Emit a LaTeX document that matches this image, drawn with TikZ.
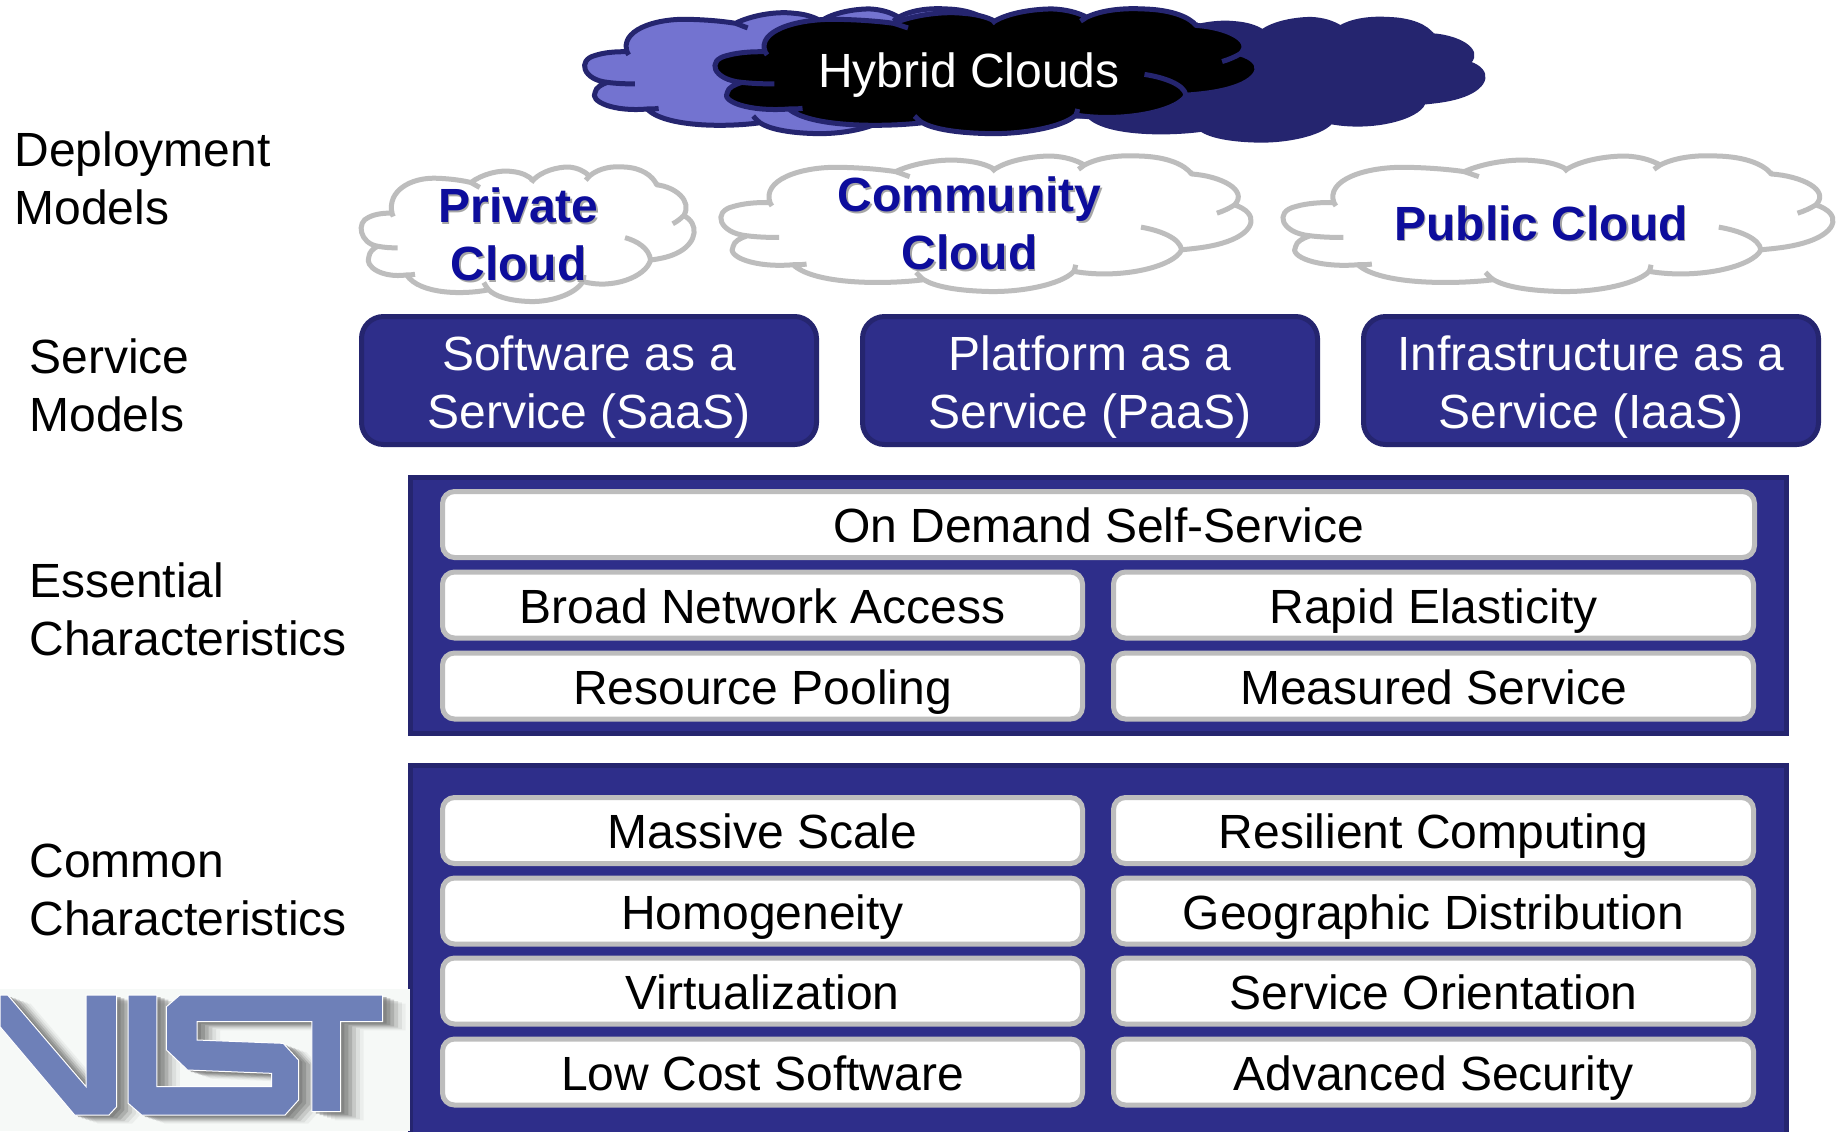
\documentclass[tikz,border=0pt]{standalone}
\usepackage{fontspec}
\setmainfont{Liberation Sans}
\definecolor{navy}{HTML}{2E2E8A}
\definecolor{navyline}{HTML}{25256F}
\definecolor{lilac}{HTML}{7373D0}
\definecolor{cloudgray}{HTML}{BDBDBD}
\definecolor{cloudblue}{HTML}{0D0D9C}
\definecolor{logoblue}{HTML}{6E80B8}
\definecolor{logobg}{HTML}{F6F9F7}
\newcommand{\cloudoutline}{(175,190) .. controls (150,120) and (260,80) .. (370,82) .. controls (440,83) and (500,90) .. (530,95) .. controls (580,70) and (660,55) .. (720,62) .. controls (760,65) and (790,75) .. (810,88) .. controls (850,60) and (920,48) .. (970,48) .. controls (1010,50) and (1040,60) .. (1065,75) .. controls (1110,50) and (1170,45) .. (1220,48) .. controls (1300,50) and (1350,75) .. (1368,102) .. controls (1450,108) and (1530,150) .. (1490,195) .. controls (1560,220) and (1550,275) .. (1470,305) .. controls (1430,320) and (1390,325) .. (1340,330) .. controls (1320,380) and (1170,420) .. (1035,395) .. controls (1000,435) and (880,460) .. (780,455) .. controls (700,452) and (640,440) .. (610,420) .. controls (500,435) and (300,435) .. (240,375) .. controls (130,385) and (50,350) .. (70,320) .. controls (72,305) and (90,295) .. (110,288) .. controls (30,280) and (10,215) .. (70,200) .. controls (100,190) and (140,187) .. (175,188) -- cycle}
\newcommand{\cloudinner}{(530,95) .. controls (545,100) and (555,105) .. (570,110) (1490,195) .. controls (1475,205) and (1460,213) .. (1440,220) (1340,330) .. controls (1335,295) and (1280,272) .. (1225,262) (1035,395) .. controls (1037,388) and (1040,380) .. (1040,375) (610,420) .. controls (600,413) and (595,405) .. (588,398) (240,375) .. controls (250,375) and (265,375) .. (278,373) (110,288) .. controls (140,292) and (170,293) .. (200,293) (175,190) -- (180,198) (810,88) -- (803,95) (1065,75) -- (1048,88) (1368,102) -- (1365,95)}
% #1 x0, #2 y0, #3 x1, #4 y1, #5 fill, #6 line, #7 line width
\newcommand{\cloudpic}[7]{%
  \pgfmathsetmacro\cxs{(#3-#1)/1515*0.5}%
  \pgfmathsetmacro\cys{(#4-#2)/415*0.5}%
  \begin{scope}[shift={(#1,#2)},x=\cxs pt,y=-\cys pt,shift={(-30,-45)}]
  \fill[#5] \cloudoutline;
  \draw[#6,line width=#7,line join=round] \cloudoutline \cloudinner;
  \end{scope}}
\newcommand{\nistN}{(0,105) -- (20,105) -- (225,380) -- (225,105) -- (305,105) -- (305,440) -- (285,465) -- (195,465) -- (0,200) -- cycle}
\newcommand{\nistIS}{(335,105) -- (410,105) -- (410,380) -- (710,380) -- (710,340) -- (490,330) -- (435,270) -- (435,140) -- (470,105) -- (1000,105) -- (1000,185) -- (890,185) -- (890,455) -- (815,455) -- (815,185) -- (515,185) -- (515,240) -- (740,250) -- (780,300) -- (780,420) -- (745,465) -- (370,465) -- (335,430) -- cycle}
\tikzset{
  x=0.5pt,y=-0.5pt,
  every node/.style={font=\fontsize{24pt}{29pt}\selectfont,align=center,inner sep=0pt},
  oneline/.style={execute at begin node={\rule{0pt}{24pt}},execute at end node={\rule[-6pt]{0pt}{0pt}}},
  twoline/.style={execute at begin node={\rule{0pt}{30.5pt}},execute at end node={\rule[-5.1pt]{0pt}{0pt}}},
  sidelabel/.style={twoline,anchor=west,align=left},
  cloudtext/.style={font=\fontsize{24pt}{29pt}\selectfont\bfseries,text=cloudblue},
  cloudshadow/.style={font=\fontsize{24pt}{29pt}\selectfont\bfseries,text=black!35},
  service/.style={draw=navyline,fill=navy,line width=2.5pt,rounded corners=11pt,minimum height=64pt,minimum width=227.5pt},
  servicetext/.style={twoline,text=white,yshift=-3.5pt},
  panel/.style={fill=navy,draw=navyline,line width=2.5pt},
  item/.style={oneline,draw=cloudgray,fill=white,line width=2.5pt,rounded corners=6pt,minimum height=33pt,text=black},
  halfitem/.style={item,minimum width=320pt},
}
\begin{document}
\begin{tikzpicture}
\useasboundingbox (0,0) rectangle (1845,1131);
\fill[white] (0,0) rectangle (1845,1131);
% hybrid clouds
\cloudpic{583}{8}{1045}{135}{lilac}{navyline}{2.5pt}
\cloudpic{1024}{17}{1487}{143}{navyline}{navyline}{1pt}
\cloudpic{713}{8}{1260}{135}{black}{navyline}{2.5pt}
\node[oneline,text=white] (hybrid) at (969,69) {Hybrid Clouds};
% deployment clouds
\cloudpic{360}{166}{696}{303}{white}{cloudgray}{2.5pt}
\cloudpic{719}{155}{1254}{293}{white}{cloudgray}{2.5pt}
\cloudpic{1281}{155}{1836}{293}{white}{cloudgray}{2.5pt}
\node[twoline,cloudshadow] (privates) at (520,241) {Private\\Cloud};
\node[twoline,cloudshadow] (communitys) at (971,230) {Community\\Cloud};
\node[oneline,cloudshadow] (publics) at (1542.5,223.5) {Public Cloud};
\node[twoline,cloudtext] (private) at (518.5,239.5) {Private\\Cloud};
\node[twoline,cloudtext] (community) at (969.5,228.5) {Community\\Cloud};
\node[oneline,cloudtext] (public) at (1541,222) {Public Cloud};
% service
\node[service] (saas) at (589,380.5) {};
\node[service] (paas) at (1090,380.5) {};
\node[service] (iaas) at (1591,380.5) {};
\node[servicetext] (saastext) at (saas.center) {Software as a\\Service (SaaS)};
\node[servicetext] (paastext) at (paas.center) {Platform as a\\Service (PaaS)};
\node[servicetext] (iaastext) at (iaas.center) {Infrastructure as a\\Service (IaaS)};
% panels
\draw[panel] (410,477) rectangle (1786,733);
\draw[panel] (410,765) rectangle (1786,1145);
\node[item,minimum width=656pt] (ondemand) at (1098.5,524.5) {On Demand Self-Service};
\node[halfitem] (broad) at (762.5,605) {Broad Network Access};
\node[halfitem] (rapid) at (1433.5,605) {Rapid Elasticity};
\node[halfitem] (pooling) at (762.5,686) {Resource Pooling};
\node[halfitem] (measured) at (1433.5,686) {Measured Service};
\node[halfitem] (massive) at (762.5,830.5) {Massive Scale};
\node[halfitem] (resilient) at (1433.5,830.5) {Resilient Computing};
\node[halfitem] (homog) at (762.5,911) {Homogeneity};
\node[halfitem] (geo) at (1433.5,911) {Geographic Distribution};
\node[halfitem] (virt) at (762.5,991) {Virtualization};
\node[halfitem] (orient) at (1433.5,991) {Service Orientation};
\node[halfitem] (lowcost) at (762.5,1072) {Low Cost Software};
\node[halfitem] (security) at (1433.5,1072) {Advanced Security};
% side labels
\node[sidelabel] (deploy) at (14,183.4) {Deployment\\Models};
\node[sidelabel] (svc) at (29,390.4) {Service\\Models};
\node[sidelabel] (ess) at (29,614) {Essential\\Characteristics};
\node[sidelabel] (com) at (29,895) {Common\\Characteristics};
% NIST logo
\fill[logobg] (0,989) rectangle (410,1131);
\begin{scope}[shift={(0,960)},x=0.5pt/2.613,y=-0.5pt/3]
\foreach \dx/\dy/\op in {60/26/0.08,50/22/0.12,40/18/0.2,30/14/0.3,20/10/0.4,10/6/0.5}{
\fill[black!55,opacity=\op,shift={(\dx,\dy)}] \nistN;
\fill[black!55,opacity=\op,shift={(\dx,\dy)}] \nistIS;
}
\fill[logoblue,draw=white,line width=0.5pt] \nistN;
\fill[logoblue,draw=white,line width=0.5pt] \nistIS;
\end{scope}
\end{tikzpicture}
\end{document}
